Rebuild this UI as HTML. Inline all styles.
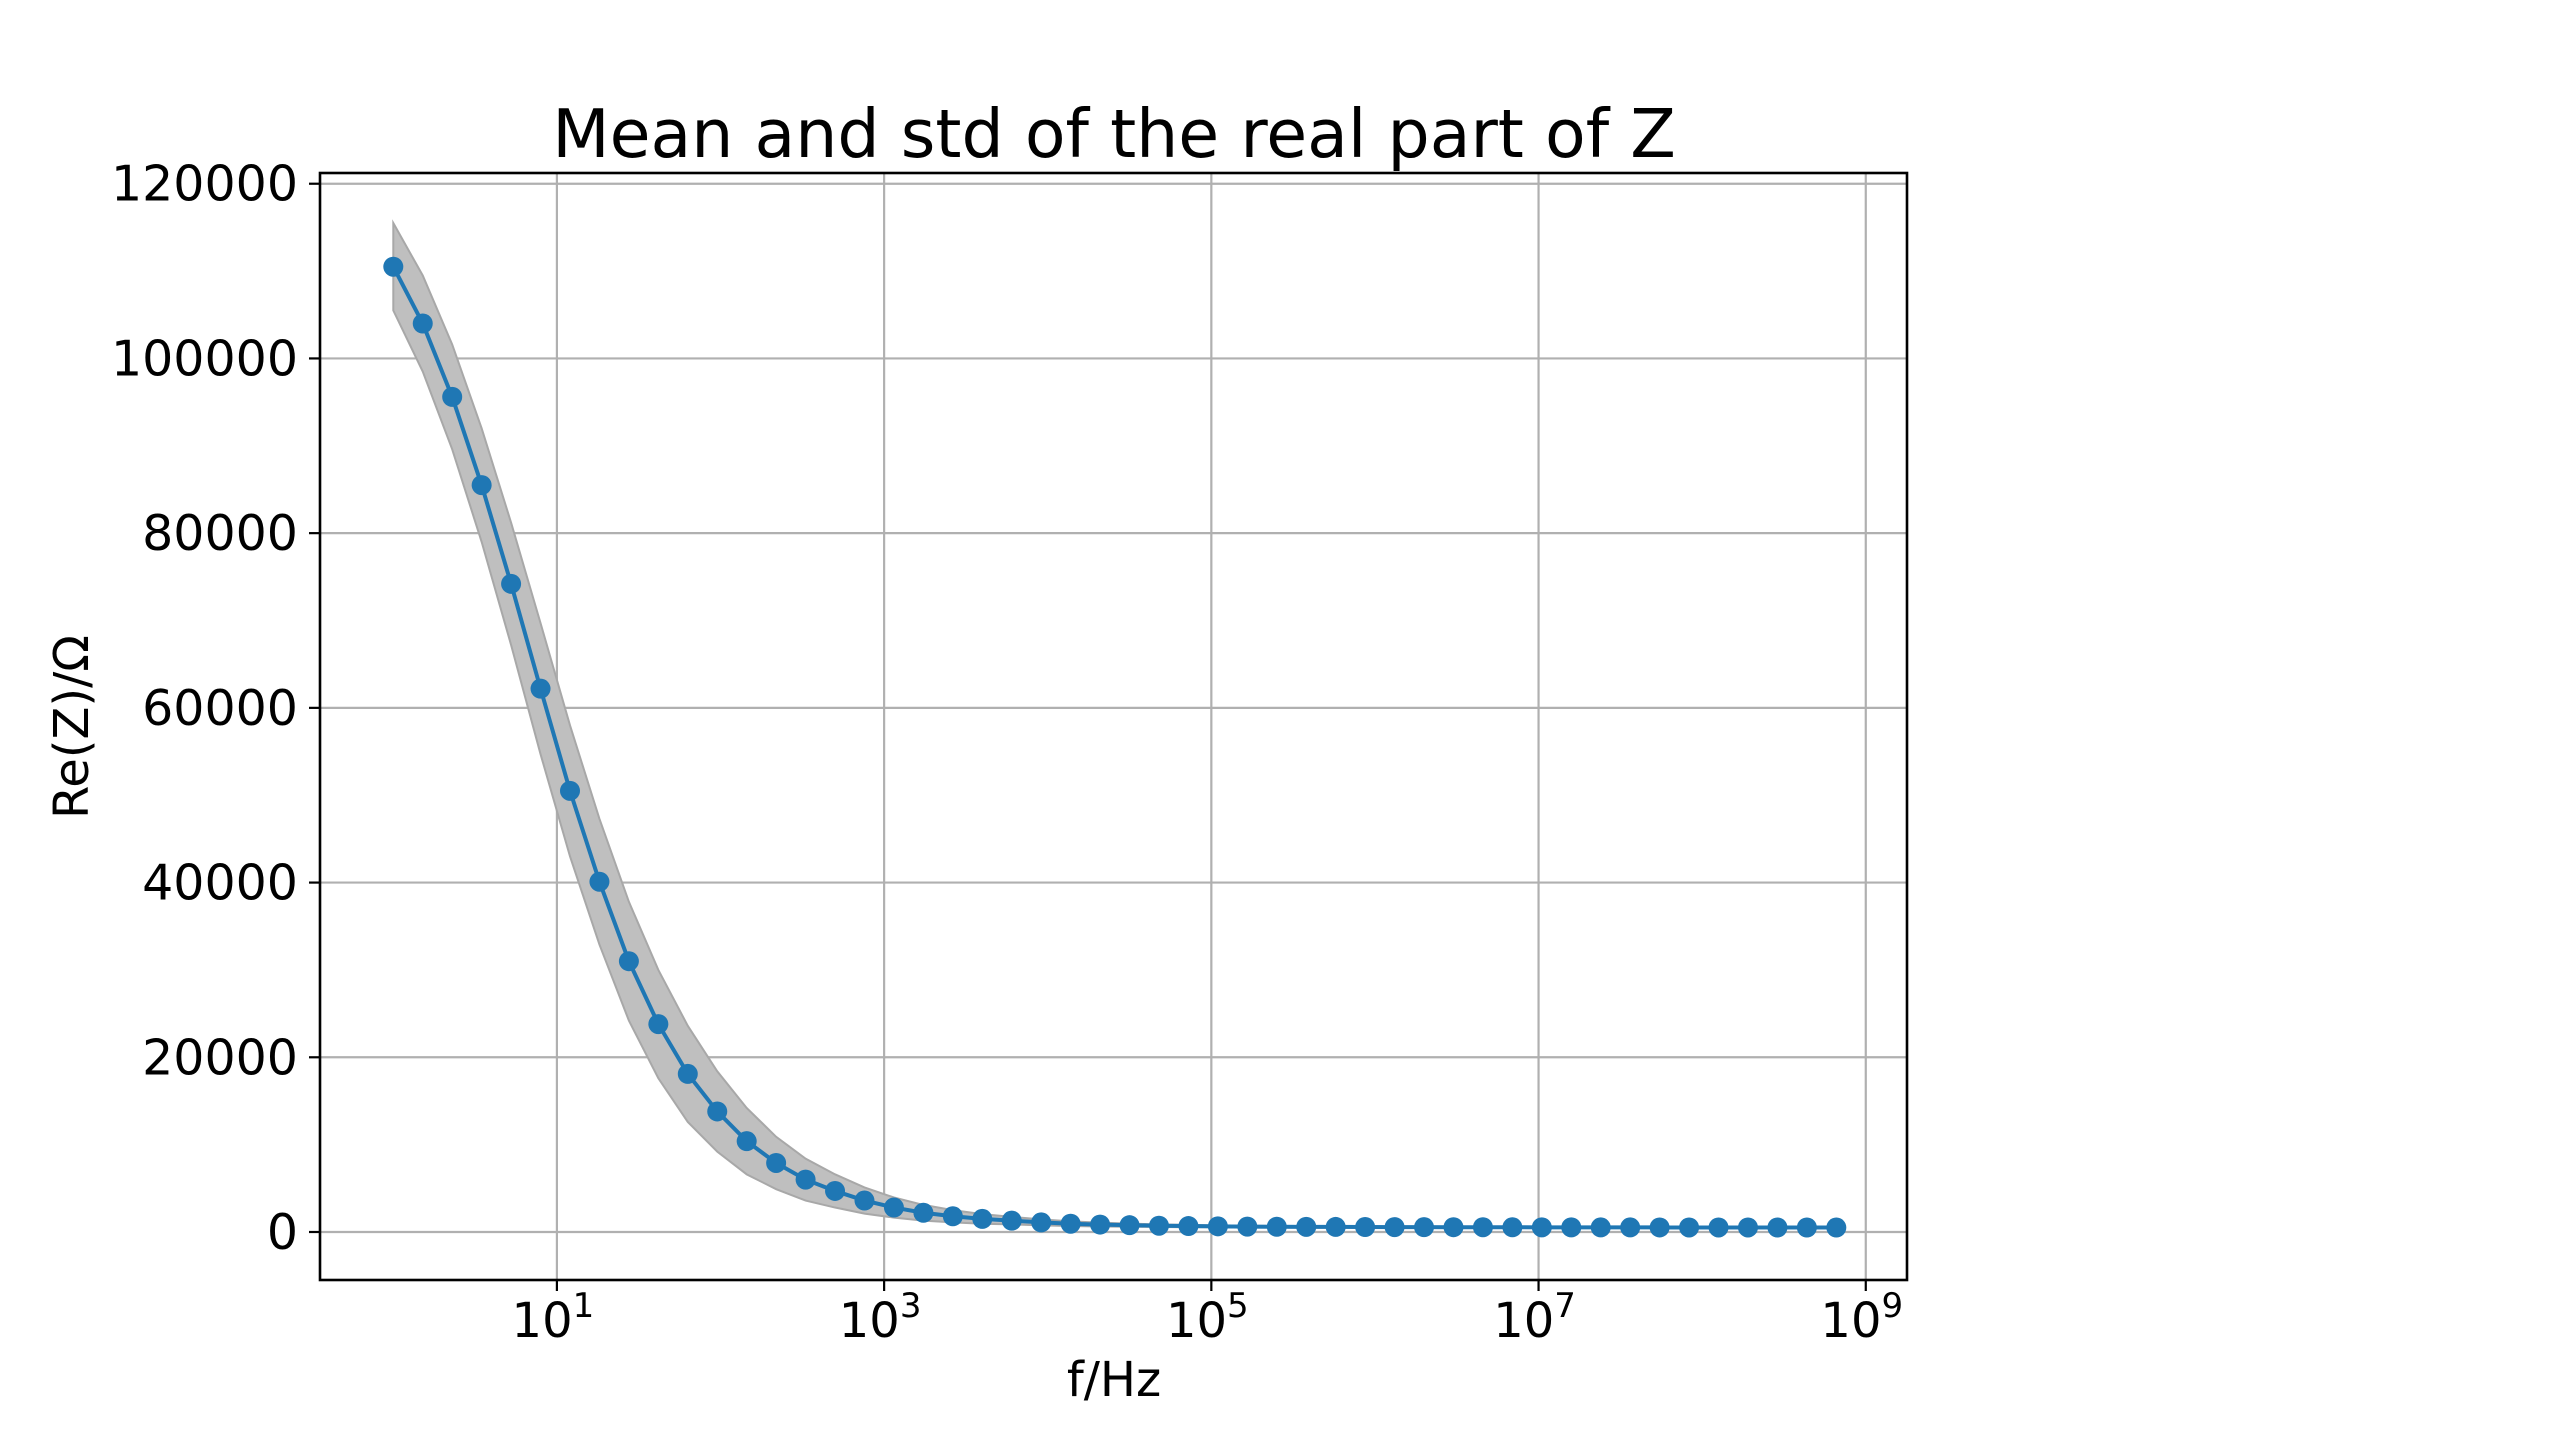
<!DOCTYPE html>
<html><head><meta charset="utf-8">
<style>
html,body{margin:0;padding:0;background:#fff;}
svg{display:block;}
text{font-family:"DejaVu Sans","Liberation Sans",sans-serif;fill:#000;}
</style></head>
<body>
<svg id="chart" width="2560" height="1438" viewBox="0 0 2560 1438" xmlns="http://www.w3.org/2000/svg">
<rect width="2560" height="1438" fill="#fff"/>
<text x="1114" y="157" font-size="66.5" text-anchor="middle">Mean and std of the real part of Z</text>
<g id="grid"></g>
<g id="band"></g>
<g id="series"></g>
<g id="axes"></g>
<text x="1114" y="1396" font-size="48" text-anchor="middle">f/Hz</text>
<text transform="translate(88,727) rotate(-90)" font-size="48" text-anchor="middle">Re(Z)/Ω</text>
</svg>
<script>
const logFreq = [0,0.18,0.36,0.54,0.72,0.9,1.08,1.26,1.44,1.62,1.8,1.98,2.16,2.34,2.52,2.7,2.88,3.06,3.24,3.42,3.6,3.78,3.96,4.14,4.32,4.5,4.68,4.86,5.04,5.22,5.4,5.58,5.76,5.94,6.12,6.3,6.48,6.66,6.84,7.02,7.2,7.38,7.56,7.74,7.92,8.1,8.28,8.46,8.64,8.82];
const meanRe = [110500,104000,95600,85500,74200,62200,50500,40100,31000,23800,18100,13800,10400,7900,6000,4700,3600,2800,2200,1800,1500,1300,1100,950,850,780,720,680,650,620,600,590,580,570,560,555,550,545,540,535,530,528,525,522,520,518,516,515,514,513];
const stdRe = [5000,5500,6000,6500,7000,7500,7500,7200,6800,6200,5500,4600,3800,3000,2400,1900,1500,1150,900,700,550,430,340,270,220,180,150,130,110,100,90,85,80,75,70,68,66,64,62,60,58,57,56,55,54,53,52,51,50,50];
const yTicks = [0,20000,40000,60000,80000,100000,120000];
const xTickExps = [1,3,5,7,9];

const L=320,R=1907,T=173,B=1280;
const xMin=-0.448,xMax=9.252,yMin=-5495,yMax=121228;
const sx=v=>L+(v-xMin)/(xMax-xMin)*(R-L);
const sy=v=>B-(v-yMin)/(yMax-yMin)*(B-T);
const NS="http://www.w3.org/2000/svg";
function mk(tag,attrs,parent){const e=document.createElementNS(NS,tag);for(const k in attrs)e.setAttribute(k,attrs[k]);parent.appendChild(e);return e;}
const grid=document.getElementById('grid'),band=document.getElementById('band'),series=document.getElementById('series'),axes=document.getElementById('axes');

yTicks.forEach(v=>{
  const y=sy(v);
  const g=mk('line',{x1:L,x2:R,y1:y,y2:y,stroke:'#b0b0b0','stroke-width':2.2},grid);
  
  
  const t=mk('line',{x1:L-11,x2:L,y1:y,y2:y,stroke:'#000','stroke-width':2.2},axes);
  
  
  const lb=mk('text',{x:L-22,y:y+17,'font-size':49,'text-anchor':'end'},axes);
  lb.textContent=String(v);
  
  
});
xTickExps.forEach(e=>{
  const x=sx(e);
  const g=mk('line',{x1:x,x2:x,y1:T,y2:B,stroke:'#b0b0b0','stroke-width':2.2},grid);
  
  
  const t=mk('line',{x1:x,x2:x,y1:B,y2:B+11,stroke:'#000','stroke-width':2.2},axes);
  
  
  const lb=mk('text',{x:x-4,y:1337,'font-size':48,'text-anchor':'middle'},axes);
  lb.textContent='10';
  const sup=mk('tspan',{dy:-20,'font-size':34},lb);
  sup.textContent=String(e);
  
  
});

let up=[],lo=[];
logFreq.forEach((f,i)=>{up.push(sx(f)+','+sy(meanRe[i]+stdRe[i]));lo.unshift(sx(f)+','+sy(meanRe[i]-stdRe[i]));});
const poly=mk('polygon',{points:up.concat(lo).join(' '),fill:'#bfbfbf',stroke:'#a8a8a8','stroke-width':2},band);



const pl=mk('polyline',{points:logFreq.map((f,i)=>sx(f)+','+sy(meanRe[i])).join(' '),fill:'none',stroke:'#1f77b4','stroke-width':4},series);


logFreq.forEach((f,i)=>{
  const c=mk('circle',{cx:sx(f),cy:sy(meanRe[i]),r:10,fill:'#1f77b4'},series);
  
  
});

const fr=mk('rect',{x:L,y:T,width:R-L,height:B-T,fill:'none',stroke:'#000','stroke-width':2.6},axes);


</script>
</body></html>
